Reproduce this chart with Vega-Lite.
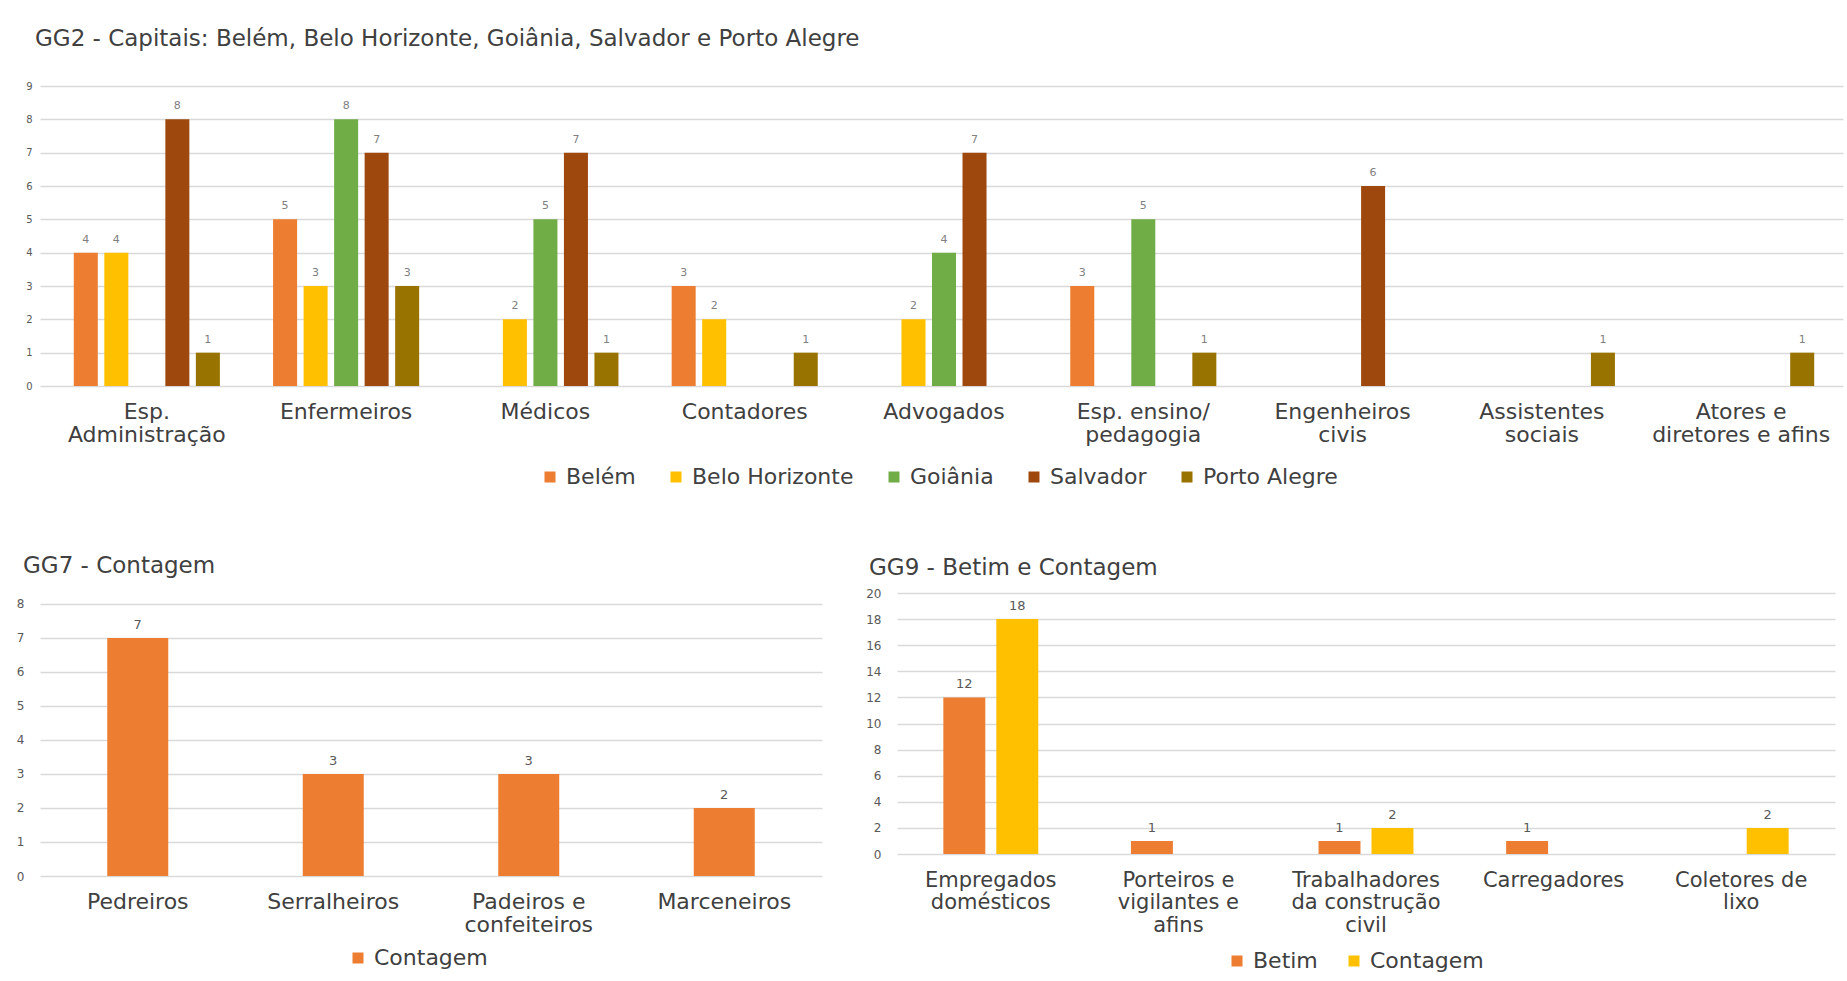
{
  "$schema": "https://vega.github.io/schema/vega-lite/v6.json",
  "background": "white",
  "padding": {"left": 16, "top": 28, "right": 2, "bottom": 2},
  "config": {
    "font": "DejaVu Sans",
    "view": {"stroke": null},
    "axis": {"domain": false, "ticks": false, "tickSize": 0, "gridColor": "#d9d9d9", "gridWidth": 1.3, "labelOverlap": false, "labelLimit": 400},
    "axisY": {"labelColor": "#595959", "grid": true},
    "axisX": {"labelColor": "#404040", "labelFontSize": 22, "labelAngle": 0, "grid": false, "labelLineHeight": 23},
    "title": {"anchor": "start", "frame": "group", "fontSize": 23, "fontWeight": "normal", "color": "#404040", "baseline": "middle"},
    "legend": {"orient": "none", "direction": "horizontal", "symbolType": "square", "symbolSize": 121, "symbolStrokeWidth": 0, "labelFontSize": 22, "labelColor": "#404040", "labelLimit": 400, "columnPadding": 29, "labelOffset": 5, "padding": 0}
  },
  "bounds": "flush",
  "spacing": 207,
  "resolve": {"scale": {"color": "independent", "xOffset": "independent", "x": "independent", "y": "independent"}, "legend": {"color": "independent"}},
  "vconcat": [
    {
      "width": 1803,
      "height": 300,
      "title": {"text": "GG2 - Capitais: Belém, Belo Horizonte, Goiânia, Salvador e Porto Alegre", "dx": -5, "offset": 30},
      "data": {"values": [
        {"ocupacao": "Esp. Administração", "cidade": "Belém", "valor": 4},
        {"ocupacao": "Esp. Administração", "cidade": "Belo Horizonte", "valor": 4},
        {"ocupacao": "Esp. Administração", "cidade": "Salvador", "valor": 8},
        {"ocupacao": "Esp. Administração", "cidade": "Porto Alegre", "valor": 1},
        {"ocupacao": "Enfermeiros", "cidade": "Belém", "valor": 5},
        {"ocupacao": "Enfermeiros", "cidade": "Belo Horizonte", "valor": 3},
        {"ocupacao": "Enfermeiros", "cidade": "Goiânia", "valor": 8},
        {"ocupacao": "Enfermeiros", "cidade": "Salvador", "valor": 7},
        {"ocupacao": "Enfermeiros", "cidade": "Porto Alegre", "valor": 3},
        {"ocupacao": "Médicos", "cidade": "Belo Horizonte", "valor": 2},
        {"ocupacao": "Médicos", "cidade": "Goiânia", "valor": 5},
        {"ocupacao": "Médicos", "cidade": "Salvador", "valor": 7},
        {"ocupacao": "Médicos", "cidade": "Porto Alegre", "valor": 1},
        {"ocupacao": "Contadores", "cidade": "Belém", "valor": 3},
        {"ocupacao": "Contadores", "cidade": "Belo Horizonte", "valor": 2},
        {"ocupacao": "Contadores", "cidade": "Porto Alegre", "valor": 1},
        {"ocupacao": "Advogados", "cidade": "Belo Horizonte", "valor": 2},
        {"ocupacao": "Advogados", "cidade": "Goiânia", "valor": 4},
        {"ocupacao": "Advogados", "cidade": "Salvador", "valor": 7},
        {"ocupacao": "Esp. ensino/pedagogia", "cidade": "Belém", "valor": 3},
        {"ocupacao": "Esp. ensino/pedagogia", "cidade": "Goiânia", "valor": 5},
        {"ocupacao": "Esp. ensino/pedagogia", "cidade": "Porto Alegre", "valor": 1},
        {"ocupacao": "Engenheiros civis", "cidade": "Salvador", "valor": 6},
        {"ocupacao": "Assistentes sociais", "cidade": "Porto Alegre", "valor": 1},
        {"ocupacao": "Atores e diretores e afins", "cidade": "Porto Alegre", "valor": 1}
      ]},
      "encoding": {
        "x": {"field": "ocupacao", "type": "nominal",
          "sort": ["Esp. Administração", "Enfermeiros", "Médicos", "Contadores", "Advogados", "Esp. ensino/pedagogia", "Engenheiros civis", "Assistentes sociais", "Atores e diretores e afins"],
          "scale": {"paddingInner": 0.267, "paddingOuter": 0.157, "align": 0.54},
          "axis": {"title": null, "labelPadding": 15,
            "labelExpr": "datum.label == 'Esp. Administração' ? ['Esp.', 'Administração'] : datum.label == 'Esp. ensino/pedagogia' ? ['Esp. ensino/', 'pedagogia'] : datum.label == 'Engenheiros civis' ? ['Engenheiros', 'civis'] : datum.label == 'Assistentes sociais' ? ['Assistentes', 'sociais'] : datum.label == 'Atores e diretores e afins' ? ['Atores e', 'diretores e afins'] : datum.label"}},
        "xOffset": {"field": "cidade", "type": "nominal",
          "sort": ["Belém", "Belo Horizonte", "Goiânia", "Salvador", "Porto Alegre"],
          "scale": {"domain": ["Belém", "Belo Horizonte", "Goiânia", "Salvador", "Porto Alegre"], "paddingInner": 0.213, "paddingOuter": 0}},
        "y": {"field": "valor", "type": "quantitative", "scale": {"domain": [0, 9], "nice": false},
          "axis": {"title": null, "values": [0, 1, 2, 3, 4, 5, 6, 7, 8, 9], "labelFontSize": 10, "labelPadding": 8}}
      },
      "layer": [
        {"mark": {"type": "bar"},
         "encoding": {"color": {"field": "cidade", "type": "nominal",
           "scale": {"domain": ["Belém", "Belo Horizonte", "Goiânia", "Salvador", "Porto Alegre"], "range": ["#ED7D31", "#FFC000", "#70AD47", "#9E480E", "#997300"]},
           "legend": {"title": null, "legendX": 499, "legendY": 380}}}},
        {"mark": {"type": "text", "dy": -13, "fontSize": 11, "color": "#7f7f7f"},
         "encoding": {"text": {"field": "valor", "type": "quantitative"}}}
      ]
    },
    {
      "bounds": "flush",
      "spacing": 75,
      "resolve": {"scale": {"color": "independent", "xOffset": "independent", "x": "independent", "y": "independent"}, "legend": {"color": "independent"}},
      "hconcat": [
        {
          "width": 782,
          "height": 283,
          "title": {"text": "GG7 - Contagem", "dx": -17, "offset": 15},
          "data": {"values": [
            {"ocupacao": "Pedreiros", "cidade": "Contagem", "valor": 7},
            {"ocupacao": "Serralheiros", "cidade": "Contagem", "valor": 3},
            {"ocupacao": "Padeiros e confeiteiros", "cidade": "Contagem", "valor": 3},
            {"ocupacao": "Marceneiros", "cidade": "Contagem", "valor": 2}
          ]},
          "encoding": {
            "x": {"field": "ocupacao", "type": "nominal",
              "sort": ["Pedreiros", "Serralheiros", "Padeiros e confeiteiros", "Marceneiros"],
              "scale": {"paddingInner": 0.688, "paddingOuter": 0.344},
              "axis": {"title": null, "labelPadding": 15,
                "labelExpr": "datum.label == 'Padeiros e confeiteiros' ? ['Padeiros e', 'confeiteiros'] : datum.label"}},
            "y": {"field": "valor", "type": "quantitative", "scale": {"domain": [0, 8.32], "nice": false},
              "axis": {"title": null, "values": [0, 1, 2, 3, 4, 5, 6, 7, 8], "labelFontSize": 12, "labelPadding": 16}}
          },
          "layer": [
            {"mark": {"type": "bar"},
             "encoding": {"color": {"field": "cidade", "type": "nominal",
               "scale": {"domain": ["Contagem"], "range": ["#ED7D31"]},
               "legend": {"title": null, "legendX": 307, "legendY": 354}}}},
            {"mark": {"type": "text", "dy": -13, "fontSize": 13, "color": "#595959"},
             "encoding": {"text": {"field": "valor", "type": "quantitative"}}}
          ]
        },
        {
          "width": 938,
          "height": 261,
          "title": {"text": "GG9 - Betim e Contagem", "dx": -28, "offset": 7},
          "data": {"values": [
            {"ocupacao": "Empregados domésticos", "cidade": "Betim", "valor": 12},
            {"ocupacao": "Empregados domésticos", "cidade": "Contagem", "valor": 18},
            {"ocupacao": "Porteiros e vigilantes e afins", "cidade": "Betim", "valor": 1},
            {"ocupacao": "Trabalhadores da construção civil", "cidade": "Betim", "valor": 1},
            {"ocupacao": "Trabalhadores da construção civil", "cidade": "Contagem", "valor": 2},
            {"ocupacao": "Carregadores", "cidade": "Betim", "valor": 1},
            {"ocupacao": "Coletores de lixo", "cidade": "Contagem", "valor": 2}
          ]},
          "encoding": {
            "x": {"field": "ocupacao", "type": "nominal",
              "sort": ["Empregados domésticos", "Porteiros e vigilantes e afins", "Trabalhadores da construção civil", "Carregadores", "Coletores de lixo"],
              "scale": {"paddingInner": 0.494, "paddingOuter": 0.247},
              "axis": {"title": null, "labelPadding": 15, "labelFontSize": 21, "labelLineHeight": 22.5,
                "labelExpr": "datum.label == 'Empregados domésticos' ? ['Empregados', 'domésticos'] : datum.label == 'Porteiros e vigilantes e afins' ? ['Porteiros e', 'vigilantes e', 'afins'] : datum.label == 'Trabalhadores da construção civil' ? ['Trabalhadores', 'da construção', 'civil'] : datum.label == 'Coletores de lixo' ? ['Coletores de', 'lixo'] : datum.label"}},
            "xOffset": {"field": "cidade", "type": "nominal",
              "sort": ["Betim", "Contagem"],
              "scale": {"domain": ["Betim", "Contagem"], "paddingInner": 0.208, "paddingOuter": 0}},
            "y": {"field": "valor", "type": "quantitative", "scale": {"domain": [0, 20], "nice": false},
              "axis": {"title": null, "values": [0, 2, 4, 6, 8, 10, 12, 14, 16, 18, 20], "labelFontSize": 12, "labelPadding": 16}}
          },
          "layer": [
            {"mark": {"type": "bar"},
             "encoding": {"color": {"field": "cidade", "type": "nominal",
               "scale": {"domain": ["Betim", "Contagem"], "range": ["#ED7D31", "#FFC000"]},
               "legend": {"title": null, "legendX": 329, "legendY": 357, "columnPadding": 25}}}},
            {"mark": {"type": "text", "dy": -13, "fontSize": 13, "color": "#595959"},
             "encoding": {"text": {"field": "valor", "type": "quantitative"}}}
          ]
        }
      ]
    }
  ]
}
